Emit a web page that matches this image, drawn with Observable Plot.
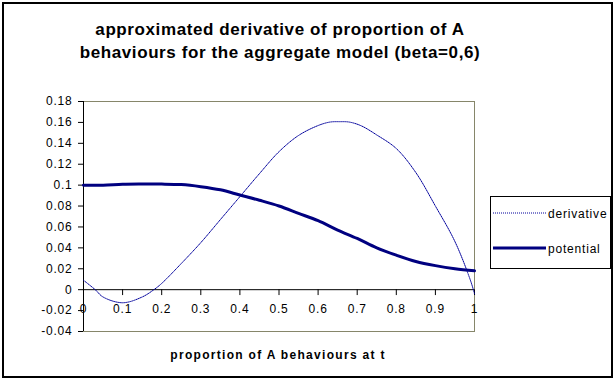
<!DOCTYPE html>
<html>
<head>
<meta charset="utf-8">
<script src="https://cdn.jsdelivr.net/npm/d3@7"></script>
<script src="https://cdn.jsdelivr.net/npm/@observablehq/plot@0.6"></script>
<style>
  html, body { margin: 0; padding: 0; background: #fff; }
  #chart { position: relative; width: 615px; height: 380px; overflow: hidden; font-family: "Liberation Sans", Arial, sans-serif; }
  #border { position: absolute; left: 2px; top: 2px; width: 611px; height: 376px; box-sizing: border-box; border: 2px solid #000; pointer-events: none; }
  #title { position: absolute; left: 0; top: 18px; width: 560px; text-align: center; font-weight: bold; font-size: 17px; line-height: 23px; letter-spacing: 0.6px; color: #000; }
  #xtitle { position: absolute; left: 0; top: 348px; width: 556px; text-align: center; font-weight: bold; font-size: 12px; line-height: 14px; letter-spacing: 1.3px; color: #000; }
  #legend { position: absolute; left: 490px; top: 196px; }
  #plot svg text { letter-spacing: 0.8px; }
</style>
</head>
<body>
<div id="chart">
  <div id="plot"></div>
  <div id="title">approximated derivative of proportion of A<br>behaviours for the aggregate model (beta=0,6)</div>
  <div id="xtitle">proportion of A behaviours at t</div>
  <div id="legend"></div>
  <div id="border"></div>
</div>
<script>
// ---- data ----
const potentialX = [0, 0.05, 0.1, 0.15, 0.2, 0.25, 0.3, 0.35, 0.4, 0.45, 0.5, 0.55, 0.6, 0.65, 0.7, 0.75, 0.8, 0.85, 0.9, 0.95, 1.0];
const potentialY = [0.100, 0.100, 0.1008, 0.101, 0.101, 0.1005, 0.0985, 0.0955, 0.0905, 0.0855, 0.080, 0.073, 0.066, 0.057, 0.049, 0.040, 0.033, 0.027, 0.023, 0.020, 0.018];

const derivativeX = [0, 0.03, 0.05, 0.1, 0.15, 0.18, 0.2, 0.25, 0.3, 0.35, 0.4, 0.45, 0.5, 0.55, 0.6, 0.63, 0.655, 0.68, 0.71, 0.75, 0.8, 0.85, 0.9, 0.95, 0.99, 1.0];
const derivativeY = [0.009, 0, -0.007, -0.0125, -0.007, 0, 0.006, 0.025, 0.045, 0.067, 0.089, 0.111, 0.132, 0.1475, 0.157, 0.1603, 0.1607, 0.1603, 0.1568, 0.148, 0.135, 0.112, 0.080, 0.046, 0.0085, -0.004];

const xTicks = [0, 0.1, 0.2, 0.3, 0.4, 0.5, 0.6, 0.7, 0.8, 0.9, 1];
const yTicks = [-0.04, -0.02, 0, 0.02, 0.04, 0.06, 0.08, 0.1, 0.12, 0.14, 0.16, 0.18];

const seriesNames = ["derivative", "potential"];
const seriesColors = ["#00009c", "#000080"];

const potential = potentialX.map((x, i) => ({x, y: potentialY[i]}));
const derivative = derivativeX.map((x, i) => ({x, y: derivativeY[i]}));

const fmt = d => String(+d.toFixed(2));
const tickShape = { draw(context, l) { context.moveTo(0, 0); context.lineTo(0, -l); } };

const chart = Plot.plot({
  width: 615,
  height: 380,
  marginLeft: 83,
  marginRight: 141,
  marginTop: 101,
  marginBottom: 49,
  style: { fontFamily: "'Liberation Sans', Arial, sans-serif", fontSize: "12px", color: "#000", background: "transparent", overflow: "visible" },
  x: { domain: [0, 1], axis: null },
  y: { domain: [-0.04, 0.18], axis: null },
  marks: [
    Plot.frame({ stroke: "#86866a" }),
    Plot.axisY({ ticks: yTicks, tickSize: 5, tickPadding: 6, tickFormat: fmt, fontSize: 12, stroke: "#000", fill: "#000", label: null }),
    Plot.ruleX([0], { stroke: "#000" }),
    Plot.ruleY([0], { stroke: "#000" }),
    Plot.vector(xTicks, { x: d => d, y: 0, length: 5, rotate: 180, anchor: "start", shape: tickShape, stroke: "#000", strokeWidth: 1 }),
    Plot.text(xTicks, { x: d => d, y: 0, dy: 19, text: fmt, fontSize: 12, fill: "#000" }),
    Plot.line(derivative, { x: "x", y: "y", stroke: seriesColors[0], strokeWidth: 1, strokeDasharray: "1,1", curve: "catmull-rom" }),
    Plot.line(potential, { x: "x", y: "y", stroke: seriesColors[1], strokeWidth: 3, curve: "catmull-rom" })
  ]
});
document.getElementById("plot").appendChild(chart);

// legend
const lg = d3.select("#legend").append("svg").attr("width", 121).attr("height", 73)
  .style("font-family", "'Liberation Sans', Arial, sans-serif").style("overflow", "visible");
lg.append("rect").attr("x", 0.5).attr("y", 0.5).attr("width", 120).attr("height", 72).attr("fill", "#fff").attr("stroke", "#000");
const rows = [{y: 17, w: 1, dash: "1,1"}, {y: 52, w: 3, dash: null}];
rows.forEach((r, i) => {
  const l = lg.append("line").attr("x1", 3).attr("x2", 56).attr("y1", r.y).attr("y2", r.y)
    .attr("stroke", seriesColors[i]).attr("stroke-width", r.w);
  if (r.dash) l.attr("stroke-dasharray", r.dash);
  lg.append("text").attr("x", 58).attr("y", r.y + 4.5).attr("font-size", 12).attr("letter-spacing", "0.8px")
    .attr("fill", "#000").text(seriesNames[i]);
});
</script>
</body>
</html>
